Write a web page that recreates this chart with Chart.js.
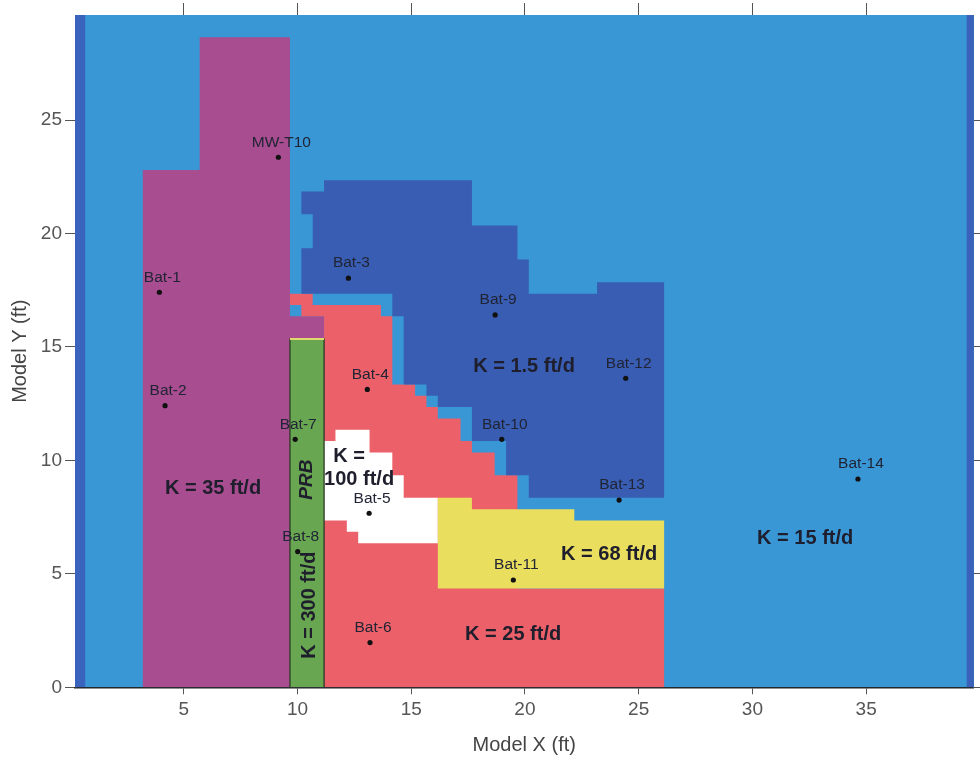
<!DOCTYPE html>
<html>
<head>
<meta charset="utf-8">
<script src="https://cdn.jsdelivr.net/npm/chart.js@4.4.1/dist/chart.umd.min.js"></script>
<style>
  html, body { margin: 0; padding: 0; background: #ffffff; }
  canvas { display: block; }
</style>
</head>
<body>
<canvas id="c" width="980" height="760"></canvas>
<script>
// ---------- data ----------
const xTicks = [5, 10, 15, 20, 25, 30, 35];
const yTicks = [0, 5, 10, 15, 20, 25];

// zone outlines (model ft)
const zoneK15 = [[0, 0], [0, 30], [40, 30], [40, 0]];
const constHeadWest = [[0, 0], [0, 30], [0.67, 30], [0.67, 0]];
const constHeadEast = [[39.42, 0], [39.42, 30], [40, 30], [40, 0]];
const zoneK35 = [[3.2, 0], [3.2, 22.8], [5.7, 22.8], [5.7, 28.65], [9.67, 28.65], [9.67, 16.35], [11.17, 16.35], [11.17, 0]];
const zoneK25 = [[9.67, 17.35], [10.67, 17.35], [10.67, 16.85], [13.67, 16.85], [13.67, 16.35], [14.17, 16.35],
  [14.17, 13.35], [15.17, 13.35], [15.17, 12.85], [15.67, 12.85], [15.67, 12.35], [16.17, 12.35],
  [16.17, 11.85], [17.17, 11.85], [17.17, 10.85], [17.67, 10.85], [17.67, 10.35], [18.67, 10.35],
  [18.67, 9.35], [19.67, 9.35], [19.67, 4.35], [26.12, 4.35], [26.12, 0], [11.17, 0],
  [11.17, 16.35], [10.17, 16.35], [10.17, 16.85], [9.67, 16.85]];
const zoneK100 = [[11.67, 11.35], [13.17, 11.35], [13.17, 10.35], [14.17, 10.35], [14.17, 9.35], [14.67, 9.35],
  [14.67, 8.35], [16.17, 8.35], [16.17, 6.35], [12.67, 6.35], [12.67, 6.85], [12.17, 6.85],
  [12.17, 7.35], [11.17, 7.35], [11.17, 10.85], [11.67, 10.85]];
const zoneK68 = [[16.17, 8.35], [17.67, 8.35], [17.67, 7.85], [22.17, 7.85], [22.17, 7.35], [26.12, 7.35], [26.12, 4.35], [16.17, 4.35]];
const zoneK1p5 = [[11.17, 22.35], [17.67, 22.35], [17.67, 20.35], [19.67, 20.35], [19.67, 18.85], [20.17, 18.85],
  [20.17, 17.35], [23.17, 17.35], [23.17, 17.85], [26.12, 17.85], [26.12, 8.35], [20.17, 8.35],
  [20.17, 9.35], [19.17, 9.35], [19.17, 10.85], [17.67, 10.85], [17.67, 12.35], [16.17, 12.35],
  [16.17, 12.85], [15.67, 12.85], [15.67, 13.35], [14.67, 13.35], [14.67, 16.35], [14.17, 16.35],
  [14.17, 17.35], [10.17, 17.35], [10.17, 19.35], [10.67, 19.35], [10.67, 20.85], [10.17, 20.85],
  [10.17, 21.85], [11.17, 21.85]];
const zonePRB = [[9.67, 0], [9.67, 15.35], [11.17, 15.35], [11.17, 0]];
const prbTop = [[9.67, 15.35], [11.17, 15.35]];

// wells
const wellNames = ['MW-T10', 'Bat-1', 'Bat-2', 'Bat-3', 'Bat-4', 'Bat-5', 'Bat-6', 'Bat-7',
  'Bat-8', 'Bat-9', 'Bat-10', 'Bat-11', 'Bat-12', 'Bat-13', 'Bat-14'];
const wellX = [9.16, 3.93, 4.18, 12.24, 13.07, 13.15, 13.19, 9.90, 10.01, 18.69, 18.98, 19.49, 24.43, 24.14, 34.64];
const wellY = [23.36, 17.41, 12.41, 18.03, 13.13, 7.67, 1.97, 10.93, 5.98, 16.41, 10.93, 4.73, 13.62, 8.25, 9.18];

// zone annotation texts
const zoneTexts = ['K = 35 ft/d', 'K = 1.5 ft/d', 'K = 68 ft/d', 'K = 25 ft/d', 'K = 15 ft/d',
  'K =', '100 ft/d', 'PRB', 'K = 300 ft/d'];

// ---------- presentation ----------
const FONT = '"Liberation Sans", Arial, Helvetica, sans-serif';
const textLayout = [
  { x: 6.29, y: 8.78, rot: false, font: 'bold 20px ' + FONT },
  { x: 19.96, y: 14.12, rot: false, font: 'bold 20px ' + FONT },
  { x: 23.70, y: 5.87, rot: false, font: 'bold 20px ' + FONT },
  { x: 19.48, y: 2.31, rot: false, font: 'bold 20px ' + FONT },
  { x: 32.32, y: 6.58, rot: false, font: 'bold 20px ' + FONT },
  { x: 12.27, y: 10.19, rot: false, font: 'bold 20px ' + FONT },
  { x: 12.71, y: 9.18, rot: false, font: 'bold 20px ' + FONT },
  { x: 10.42, y: 9.15, rot: true, font: 'italic bold 19px ' + FONT },
  { x: 10.51, y: 3.62, rot: true, font: 'bold 20px ' + FONT }
];

const toXY = arr => arr.map(p => ({ x: p[0], y: p[1] }));
function poly(label, pts, color, order, extra) {
  return Object.assign({
    label, data: toXY(pts), showLine: true, fill: 'shape',
    backgroundColor: color, borderColor: 'rgba(0,0,0,0)', borderWidth: 0,
    pointRadius: 0, pointHoverRadius: 0, order
  }, extra || {});
}

const datasets = [
  {
    label: 'wells',
    data: wellX.map((x, i) => ({ x, y: wellY[i] })),
    showLine: false, pointRadius: 2.6, pointBackgroundColor: '#111111',
    pointBorderWidth: 0, order: 0
  },
  { label: 'prbTop', data: toXY(prbTop), showLine: true, fill: false, borderColor: '#e2d96c',
    borderWidth: 2, pointRadius: 0, order: 1 },
  poly('PRB K=300', zonePRB, '#69a651', 2, { borderColor: '#2c3a24', borderWidth: 1.3 }),
  poly('K=1.5', zoneK1p5, '#395db2', 3),
  poly('K=68', zoneK68, '#e9de5e', 4),
  poly('K=100', zoneK100, '#ffffff', 5),
  poly('K=25', zoneK25, '#ec6169', 6),
  poly('K=35', zoneK35, '#a84d90', 7),
  poly('east', constHeadEast, '#3a62bb', 8),
  poly('west', constHeadWest, '#3a63bd', 9),
  poly('K=15', zoneK15, '#3997d6', 10)
];

const textPlugin = {
  id: 'zoneText',
  afterDatasetsDraw(chart) {
    const { ctx, scales } = chart;
    const xs = scales.x, ys = scales.y;
    ctx.save();
    ctx.textAlign = 'center';
    ctx.textBaseline = 'middle';
    ctx.fillStyle = '#1e1e2c';
    zoneTexts.forEach((t, i) => {
      const L = textLayout[i];
      ctx.save();
      ctx.translate(xs.getPixelForValue(L.x), ys.getPixelForValue(L.y));
      if (L.rot) ctx.rotate(-Math.PI / 2);
      ctx.font = L.font;
      ctx.fillText(t, 0, 0);
      ctx.restore();
    });
    const meta = chart.getDatasetMeta(0);
    ctx.font = '15.5px ' + FONT;
    ctx.fillStyle = '#202434';
    meta.data.forEach((pt, i) => {
      ctx.fillText(wellNames[i], pt.x + 3, pt.y - 15);
    });
    ctx.restore();
  }
};

const X_MIN = 0.22, X_MAX = 39.72, Y_MIN = 0, Y_MAX = 29.63;
const tickGrid = (len) => ({ drawOnChartArea: false, drawTicks: true, tickLength: len, color: '#555', lineWidth: 1 });

new Chart(document.getElementById('c'), {
  type: 'scatter',
  data: { datasets },
  plugins: [textPlugin],
  options: {
    responsive: false,
    animation: false,
    events: [],
    layout: { padding: 0 },
    plugins: { legend: { display: false }, tooltip: { enabled: false }, filler: { propagate: false } },
    scales: {
      x: {
        type: 'linear', position: 'bottom', min: X_MIN, max: X_MAX, bounds: 'data',
        afterBuildTicks: s => { s.ticks = xTicks.map(v => ({ value: v })); },
        afterFit: s => { s.height = 72.7; },
        grid: tickGrid(7),
        border: { display: true, color: '#222', width: 1.5 },
        ticks: { padding: 4, color: '#555', font: { size: 19, family: FONT }, maxRotation: 0, autoSkip: false },
        title: { display: true, text: 'Model X (ft)', color: '#444', font: { size: 20, family: FONT }, padding: { top: 0, bottom: 3 } }
      },
      x2: {
        type: 'linear', position: 'top', min: X_MIN, max: X_MAX, bounds: 'data',
        afterBuildTicks: s => { s.ticks = xTicks.map(v => ({ value: v })); },
        afterFit: s => { s.height = 15; },
        grid: tickGrid(12),
        border: { display: true, color: '#777', width: 1 },
        ticks: { display: false }
      },
      y: {
        type: 'linear', position: 'left', min: Y_MIN, max: Y_MAX, bounds: 'data',
        afterBuildTicks: s => { s.ticks = yTicks.map(v => ({ value: v })); },
        afterFit: s => { s.width = 75; },
        grid: tickGrid(10),
        border: { display: true, color: '#444', width: 1 },
        ticks: { padding: 3, color: '#555', font: { size: 19, family: FONT }, autoSkip: false },
        title: { display: true, text: 'Model Y (ft)', color: '#444', font: { size: 20, family: FONT }, padding: { top: 8, bottom: 0 } }
      },
      y2: {
        type: 'linear', position: 'right', min: Y_MIN, max: Y_MAX, bounds: 'data',
        afterBuildTicks: s => { s.ticks = yTicks.map(v => ({ value: v })); },
        afterFit: s => { s.width = 6.5; },
        grid: tickGrid(7),
        border: { display: true, color: '#33447a', width: 1 },
        ticks: { display: false }
      }
    }
  }
});
</script>
</body>
</html>
